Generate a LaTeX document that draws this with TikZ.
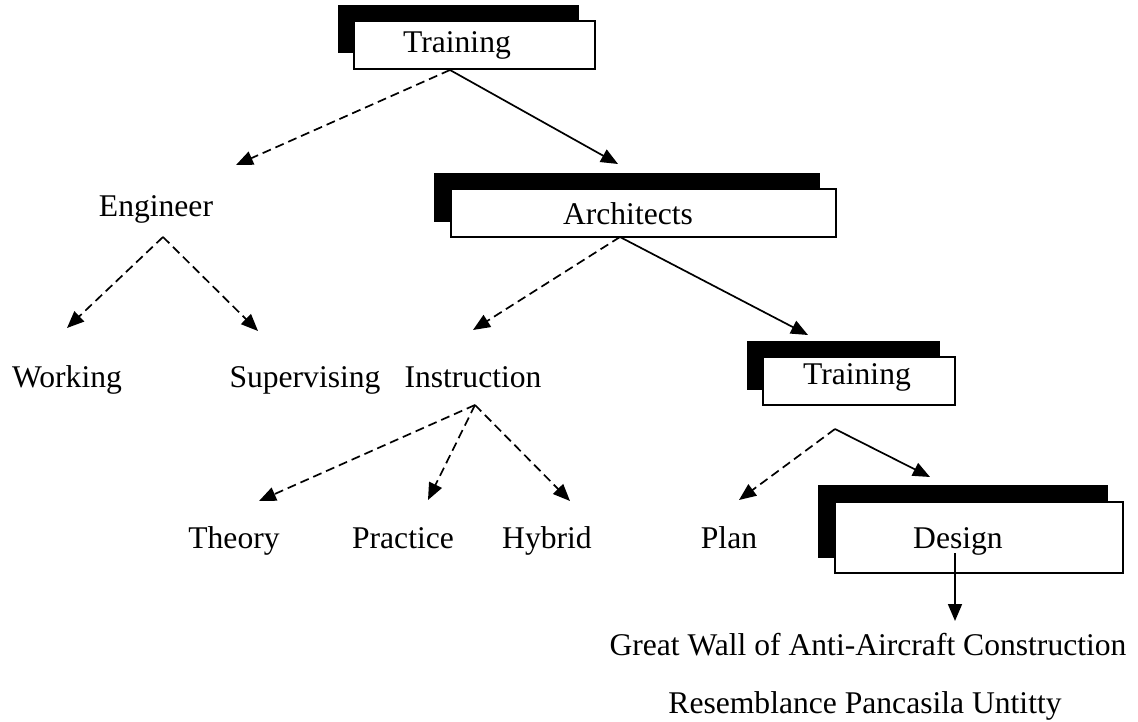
\documentclass[tikz,border=0pt]{standalone}
\usepackage{fontspec}
\setmainfont{Liberation Serif}
\usetikzlibrary{arrows.meta}
\tikzset{
  lbl/.style={font=\fontsize{31.6}{38}\selectfont, inner sep=0pt, anchor=base},
  shadowbox/.style={fill=black, draw=none, inner sep=0pt, outer sep=0pt},
  whitebox/.style={fill=white, draw=black, line width=1.6pt, inner sep=0pt, outer sep=0pt},
  conn/.style={line width=1.7pt, -{Triangle[length=17pt,width=14pt]}},
  dconn/.style={conn, dash pattern=on 9pt off 5pt},
}
\begin{document}
\begin{tikzpicture}[x=1pt, y=-1pt]
\useasboundingbox (0,0) rectangle (1138,722);

% Box 1: Training
\node[shadowbox, minimum width=241pt, minimum height=48pt] (tr1s) at (458.5,29) {};
\node[whitebox, minimum width=241pt, minimum height=48pt] (tr1b) at (474.5,45) {};
\node[lbl] (tr1) at (457,53) {Training};

% Box 2: Architects
\node[shadowbox, minimum width=386pt, minimum height=49pt] (archs) at (627,197.5) {};
\node[whitebox, minimum width=385pt, minimum height=48pt] (archb) at (643.5,213) {};
\node[lbl] (arch) at (628,225) {Architects};

% Box 3: Training
\node[shadowbox, minimum width=193pt, minimum height=49pt] (tr2s) at (843.5,365.5) {};
\node[whitebox, minimum width=192pt, minimum height=48pt] (tr2b) at (859,381) {};
\node[lbl] (tr2) at (857,384) {Training};

% Box 4: Design
\node[shadowbox, minimum width=290pt, minimum height=73pt] (dess) at (963,521.5) {};
\node[whitebox, minimum width=288pt, minimum height=71pt] (desb) at (979,537.5) {};
\node[lbl] (des) at (958,548) {Design};

% Plain labels
\node[lbl] (eng) at (156,217) {Engineer};
\node[lbl] (work) at (67,387) {Working};
\node[lbl] (sup) at (305,387) {Supervising};
\node[lbl] (ins) at (473,387) {Instruction};
\node[lbl] (theo) at (234,548) {Theory};
\node[lbl] (prac) at (403,548) {Practice};
\node[lbl] (hyb) at (547,548) {Hybrid};
\node[lbl] (plan) at (729,548) {Plan};
\node[lbl] (gw) at (868,655) {Great Wall of Anti-Aircraft Construction};
\node[lbl] (res) at (865,713) {Resemblance Pancasila Untitty};

% Connector start points and tips
\coordinate (s1) at (450,70);
\coordinate (t1e) at (236,165);
\coordinate (t1a) at (618,164);
\coordinate (s2) at (163,237);
\coordinate (t2w) at (67,328);
\coordinate (t2s) at (258,331);
\coordinate (s3) at (620,237);
\coordinate (t3i) at (473,330);
\coordinate (t3t) at (808,335);
\coordinate (s4) at (475,405);
\coordinate (t4t) at (259,501);
\coordinate (t4p) at (428,500);
\coordinate (t4h) at (570,501);
\coordinate (s5) at (835,429);
\coordinate (t5p) at (739,500);
\coordinate (t5d) at (930,477);
\coordinate (s6) at (955,553);
\coordinate (t6) at (955,621);

\draw[dconn] (s1) -- (t1e);
\draw[conn] (s1) -- (t1a);
\draw[dconn] (s2) -- (t2w);
\draw[dconn] (s2) -- (t2s);
\draw[dconn] (s3) -- (t3i);
\draw[conn] (s3) -- (t3t);
\draw[dconn] (s4) -- (t4t);
\draw[dconn] (s4) -- (t4p);
\draw[dconn] (s4) -- (t4h);
\draw[dconn] (s5) -- (t5p);
\draw[conn] (s5) -- (t5d);
\draw[conn] (s6) -- (t6);
\end{tikzpicture}
\end{document}
